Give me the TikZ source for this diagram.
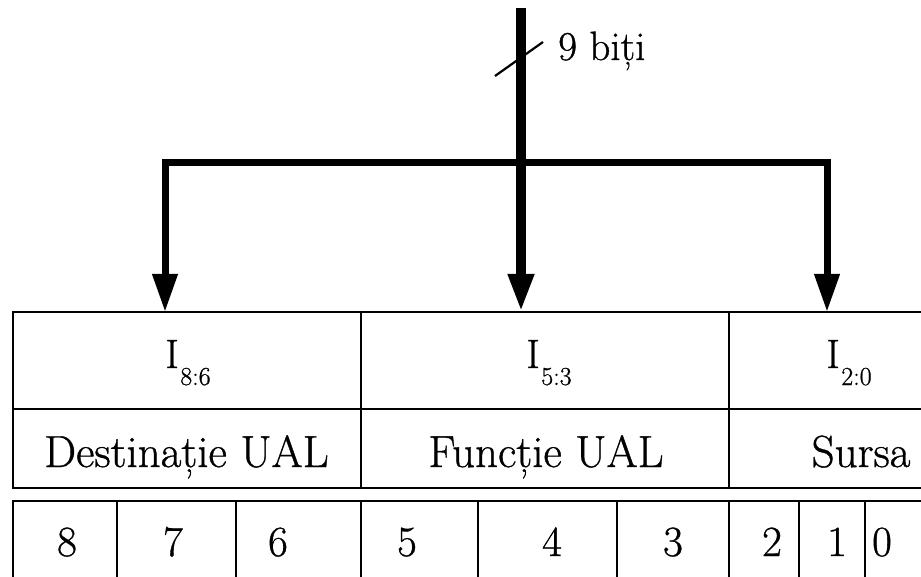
\documentclass[tikz,border=0pt]{standalone}
\usepackage{fontspec}
\setmainfont{Latin Modern Roman}[FakeBold=0.8]
\usetikzlibrary{arrows.meta}
\newcommand\Isub[1]{I\kern1.5pt\raisebox{-17pt}{\fontsize{26}{30}\selectfont #1}}
\begin{document}
\begin{tikzpicture}[x=1pt,y=-1pt,
  cell/.style={draw, line width=2.7pt, rectangle, inner sep=0pt, outer sep=0pt},
  txt/.style={font=\fontsize{45}{52}\selectfont, inner sep=0pt, anchor=base},
  itxt/.style={txt, font=\fontsize{41}{48}\selectfont},
  dtxt/.style={txt, font=\fontsize{43}{50}\selectfont},
  bus/.style={line width=10.5pt},
  branch/.style={line width=7pt},
  tip/.style={-{Triangle[length=38pt,width=24pt]}},
  slash/.style={line width=2.2pt}]
\useasboundingbox (0,0) rectangle (921,577);
% top rows
\node[cell, minimum width=348pt, minimum height=97pt] (f86) at (187,360.5) {};
\node[cell, minimum width=368pt, minimum height=97pt] (f53) at (545,360.5) {};
\node[cell, minimum width=240pt, minimum height=97pt] (f20) at (849,360.5) {};
\node[cell, minimum width=348pt, minimum height=79pt] (d86) at (187,448.5) {};
\node[cell, minimum width=368pt, minimum height=79pt] (d53) at (545,448.5) {};
\node[cell, minimum width=240pt, minimum height=79pt] (d20) at (849,448.5) {};
% bit row
\node[cell, minimum width=104pt, minimum height=109pt] (b8) at (65,555.5) {};
\node[cell, minimum width=119pt, minimum height=109pt] (b7) at (176.5,555.5) {};
\node[cell, minimum width=125pt, minimum height=109pt] (b6) at (298.5,555.5) {};
\node[cell, minimum width=117pt, minimum height=109pt] (b5) at (419.5,555.5) {};
\node[cell, minimum width=139pt, minimum height=109pt] (b4) at (547.5,555.5) {};
\node[cell, minimum width=112pt, minimum height=109pt] (b3) at (673,555.5) {};
\node[cell, minimum width=70pt, minimum height=109pt] (b2) at (764,555.5) {};
\node[cell, minimum width=66pt, minimum height=109pt] (b1) at (832,555.5) {};
\node[cell, minimum width=95pt, minimum height=109pt] (b0) at (912.5,555.5) {};
% texts
\node[itxt] (t86) at (188,368) {\Isub{8:6}};
\node[itxt] (t53) at (549,368) {\Isub{5:3}};
\node[itxt] (t20) at (849,368) {\Isub{2:0}};
\node[txt] (n86) at (186.5,467) {Destinație UAL};
\node[txt] (n53) at (546,467) {Funcție UAL};
\node[txt] (n20) at (861,467) {Sursa};
\node[dtxt] (v8) at (67,556) {8};
\node[dtxt] (v7) at (173,556) {7};
\node[dtxt] (v6) at (278,556) {6};
\node[dtxt] (v5) at (407,556) {5};
\node[dtxt] (v4) at (552,556) {4};
\node[dtxt] (v3) at (673,556) {3};
\node[dtxt] (v2) at (772,556) {2};
\node[dtxt] (v1) at (837,556) {1};
\node[dtxt] (v0) at (882,556) {0};
% bus
\coordinate (src) at (521,8);
\coordinate (split) at (521,163);
\coordinate (tl) at (165,163);
\coordinate (tr) at (827,163);
\draw[bus] (src) -- (split);
\draw[branch, line cap=rect] (tl) -- (tr);
\draw[branch, tip] (tl) -- (tl |- f86.north);
\draw[bus, tip] (split) -- (split |- f53.north);
\draw[branch, tip] (tr) -- (tr |- f20.north);
\coordinate (s1) at (495,76);
\coordinate (s2) at (543,42);
\draw[slash] (s1) -- (s2);
\node[itxt, anchor=base west] (lbl) at (558,60) {9 biți};
\end{tikzpicture}
\end{document}
